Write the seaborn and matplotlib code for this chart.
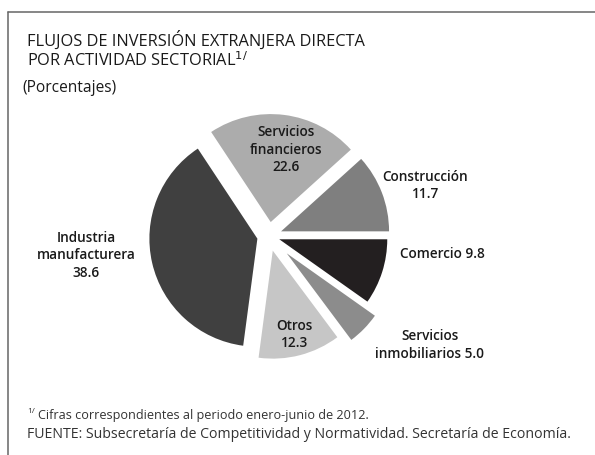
import numpy as np
import matplotlib
matplotlib.use('Agg')
import matplotlib.pyplot as plt
import seaborn as sns

# data (porcentajes), counterclockwise from 0 deg
sectores = ['Construcción', 'Servicios financieros', 'Industria manufacturera',
            'Otros', 'Servicios inmobiliarios', 'Comercio']
valores = [11.7, 22.6, 38.6, 12.3, 5.0, 9.8]
etiquetas = ['Construcción\n11.7', 'Servicios\nfinancieros\n22.6',
             'Industria\nmanufacturera\n38.6', 'Otros\n12.3',
             'Servicios\ninmobiliarios 5.0', 'Comercio 9.8']

colores = ['#7f7f7f', '#acacac', '#404040', '#c6c6c6', '#8c8c8c', '#231f20']
explode = [0.12, 0.13, 0.11, 0.14, 0.23, 0.10]
# label positions in pie units (radius = 1)
pos_etiq = [(1.45, 0.48), (0.16, 0.81), (-1.69, -0.17),
            (0.24, -0.90), (1.49, -1.0), (1.61, -0.16)]

sns.set_theme(style='white')
plt.rcParams['font.family'] = ['Open Sans', 'DejaVu Sans']

fig = plt.figure(figsize=(5.95, 4.56), dpi=100)
fig.patch.set_facecolor('white')

# frame lines (left and top)
fig.add_artist(plt.Line2D([8/595, 8/595], [0, 1 - 13/456], color='#666666', lw=1.1,
                          transform=fig.transFigure))
fig.add_artist(plt.Line2D([8/595, 1], [1 - 13/456, 1 - 13/456], color='#666666', lw=1.1,
                          transform=fig.transFigure))

ax = fig.add_axes([0.1798, 0.125, 0.5445, 0.7105])
wedges, _ = ax.pie(valores, colors=colores, explode=explode, startangle=0,
                   counterclock=True, radius=1.0,
                   wedgeprops=dict(linewidth=0, antialiased=True))
ax.set_xlim(-1.5, 1.5)
ax.set_ylim(-1.5, 1.5)
ax.set_aspect('equal')
ax.axis('off')

for lab, (x, y) in zip(etiquetas, pos_etiq):
    ax.text(x, y, lab, ha='center', va='center', fontsize=9.8, color='#1a1a1a',
            fontweight='semibold', linespacing=1.3)

# titles
fig.text(27/595, 1 - 40/456, 'FLUJOS DE INVERSIÓN EXTRANJERA DIRECTA',
         ha='left', va='center', fontsize=11.8, color='#1a1a1a')
fig.text(27/595, 1 - 61/456, 'POR ACTIVIDAD SECTORIAL$^{1/}$',
         ha='left', va='center', fontsize=11.8, color='#1a1a1a')
fig.text(22/595, 1 - 88/456, '(Porcentajes)',
         ha='left', va='center', fontsize=11.2, color='#1a1a1a')

# footnotes
fig.text(27/595, 1 - 412/456, '1/', ha='left', va='center', fontsize=6, color='#333333')
fig.text(38/595, 1 - 416/456, 'Cifras correspondientes al periodo enero-junio de 2012.',
         ha='left', va='center', fontsize=9.1, color='#333333')
fig.text(27/595, 1 - 435/456,
         'FUENTE: Subsecretaría de Competitividad y Normatividad. Secretaría de Economía.',
         ha='left', va='center', fontsize=10.2, color='#333333')

fig.savefig('out.png', dpi=100, facecolor='white')
